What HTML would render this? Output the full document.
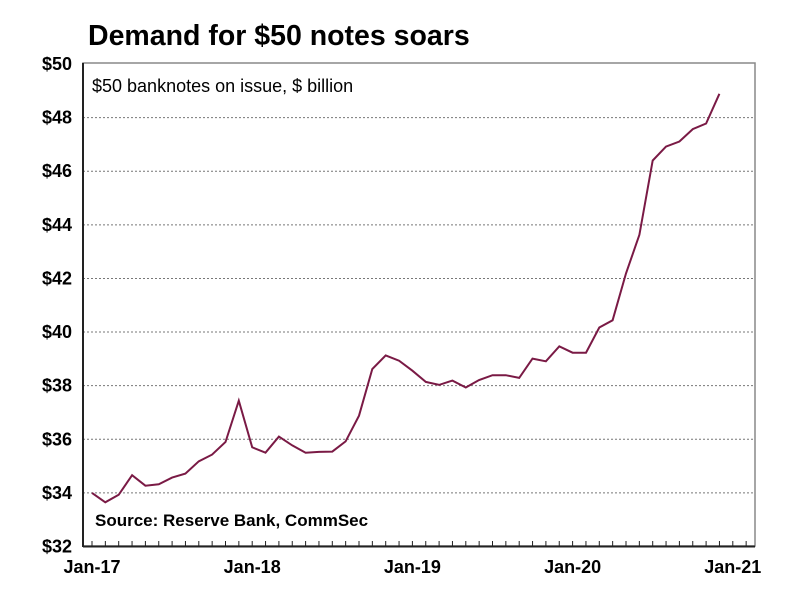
<!DOCTYPE html>
<html><head><meta charset="utf-8"><style>
body{margin:0;background:#fff;font-family:"Liberation Sans",Arial,sans-serif;}
</style></head><body>
<svg width="796" height="592" xmlns="http://www.w3.org/2000/svg" style="font-family:'Liberation Sans',Arial,sans-serif">
<text x="88" y="45" font-size="28.5" font-weight="bold">Demand for $50 notes soars</text>
<rect x="83" y="63" width="672" height="483" fill="none" stroke="#888" stroke-width="1.5"/>
<g id="grid"></g>
<g id="yl"></g>
<g id="xl"></g>
<g id="ticks"></g>
<line x1="83" y1="63" x2="83" y2="547" stroke="#222" stroke-width="2"/>
<line x1="83" y1="546.5" x2="755" y2="546.5" stroke="#222" stroke-width="2"/>
<path id="line" fill="none" stroke="#7a1a45" stroke-width="2"/>
<text x="92" y="92" font-size="18">$50 banknotes on issue, $ billion</text>
<text x="95" y="526" font-size="17" font-weight="bold">Source: Reserve Bank, CommSec</text>
</svg>
<script>
const values=[34.0,33.65,33.93,34.66,34.27,34.32,34.57,34.72,35.18,35.43,35.9,37.44,35.7,35.5,36.1,35.77,35.5,35.53,35.54,35.92,36.88,38.62,39.13,38.93,38.56,38.14,38.03,38.19,37.93,38.21,38.39,38.39,38.29,39.01,38.91,39.47,39.23,39.23,40.17,40.44,42.19,43.63,46.4,46.92,47.11,47.57,47.78,48.89];
const yTicks=[32,34,36,38,40,42,44,46,48,50];
const xLabels=["Jan-17","Jan-18","Jan-19","Jan-20","Jan-21"];
const NS="http://www.w3.org/2000/svg";
const y=v=>546.5-(v-32)*(482.5/18);
const x=i=>92+i*13.35;
const grid=document.getElementById('grid'),yl=document.getElementById('yl'),xl=document.getElementById('xl'),tk=document.getElementById('ticks');
yTicks.forEach(t=>{
 if(t>32&&t<50){const l=document.createElementNS(NS,'line');
 l.setAttribute('x1',83);l.setAttribute('x2',755);l.setAttribute('y1',y(t));l.setAttribute('y2',y(t));
 l.setAttribute('stroke','#777');l.setAttribute('stroke-dasharray','2,2');
 
 
 grid.appendChild(l);}
 const s=document.createElementNS(NS,'text');
 s.setAttribute('x',72);s.setAttribute('y',y(t)+6);s.setAttribute('text-anchor','end');
 s.setAttribute('font-size','18');s.setAttribute('font-weight','bold');s.textContent='$'+t;
 
 
 yl.appendChild(s);
});
xLabels.forEach((lab,k)=>{
 const s=document.createElementNS(NS,'text');
 s.setAttribute('x',x(k*12));s.setAttribute('y',573);s.setAttribute('text-anchor','middle');
 s.setAttribute('font-size','18');s.setAttribute('font-weight','bold');s.textContent=lab;
 
 
 xl.appendChild(s);
});
for(let i=0;i<=49;i++){const px=x(i);if(px>755)break;
 const l=document.createElementNS(NS,'line');
 l.setAttribute('x1',px);l.setAttribute('x2',px);l.setAttribute('y1',541);l.setAttribute('y2',546);
 l.setAttribute('stroke','#222');l.setAttribute('stroke-width','1');
 
 
 tk.appendChild(l);}
document.getElementById('line').setAttribute('d',values.map((v,i)=>(i?'L':'M')+x(i).toFixed(1)+','+y(v).toFixed(1)).join(''));
</script>
</body></html>
